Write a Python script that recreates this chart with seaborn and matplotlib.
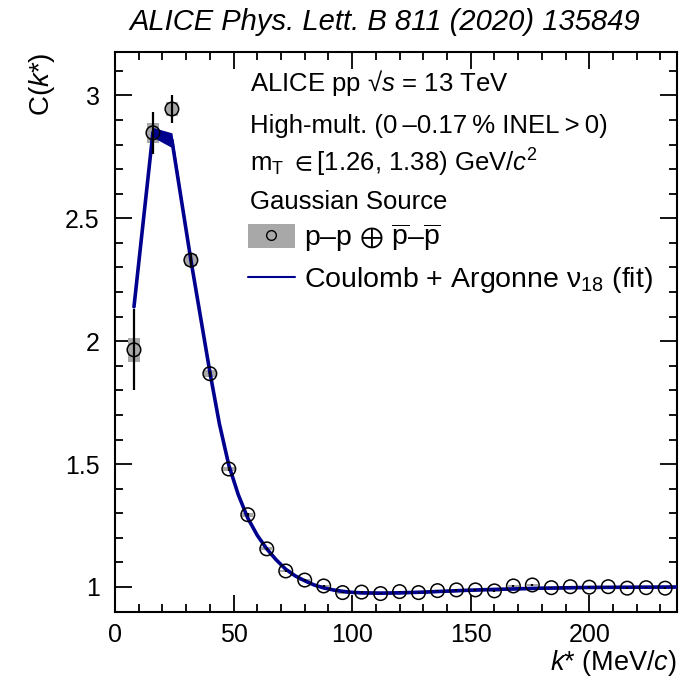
import numpy as np
import pandas as pd
import matplotlib
matplotlib.use("Agg")
import matplotlib.pyplot as plt
import seaborn as sns
from matplotlib.patches import Rectangle
from matplotlib.lines import Line2D
from matplotlib.legend_handler import HandlerTuple
from matplotlib.ticker import MultipleLocator

# ---------------- data ----------------
kstar = [8, 16, 24, 32, 40, 48, 56, 64, 72, 80, 88, 96, 104, 112, 120, 128, 136,
         144, 152, 160, 168, 176, 184, 192, 200, 208, 216, 224, 232]
cf = [1.965, 2.848, 2.945, 2.330, 1.868, 1.480, 1.294, 1.155, 1.065, 1.028, 1.004,
      0.977, 0.979, 0.973, 0.981, 0.977, 0.985, 0.988, 0.988, 0.984, 1.004, 1.008,
      0.997, 1.001, 0.999, 1.001, 0.995, 0.997, 0.995]
cf_stat = [0.165, 0.085, 0.055, 0.025, 0.012, 0.008, 0.006, 0.005, 0.004, 0.004, 0.003,
           0.003, 0.003, 0.003, 0.003, 0.003, 0.003, 0.003, 0.003, 0.003, 0.003, 0.003,
           0.003, 0.003, 0.003, 0.003, 0.003, 0.003, 0.003]
cf_syst = [0.050, 0.042, 0.030, 0.025, 0.015, 0.010, 0.008, 0.006, 0.005, 0.004, 0.004,
           0.004, 0.004, 0.004, 0.004, 0.004, 0.004, 0.004, 0.004, 0.004, 0.004, 0.004,
           0.004, 0.004, 0.004, 0.004, 0.004, 0.004, 0.004]

fit_k = [8, 16, 24, 32, 40, 44, 48, 52, 56, 60, 64, 68, 72, 76, 80, 84, 88, 92, 96,
         100, 104, 112, 120, 130, 140, 150, 160, 180, 200, 220, 240]
fit_cf = [2.14, 2.850, 2.818, 2.330, 1.875, 1.665, 1.495, 1.375, 1.280, 1.210, 1.155,
          1.110, 1.072, 1.045, 1.025, 1.008, 0.996, 0.988, 0.982, 0.978, 0.976, 0.975,
          0.976, 0.979, 0.983, 0.987, 0.990, 0.995, 0.998, 0.999, 1.000]
fit_err = [0.005, 0.020, 0.030, 0.012, 0.006, 0.005, 0.004, 0.004, 0.004, 0.004, 0.004,
           0.004, 0.004, 0.004, 0.004, 0.004, 0.004, 0.004, 0.004, 0.004, 0.004, 0.004,
           0.004, 0.004, 0.004, 0.004, 0.004, 0.004, 0.004, 0.004, 0.004]

info_lines = ["ALICE pp \u221a$s$ = 13 TeV",
              "High-mult. (0\u2009\u20130.17\u2009% INEL\u2009>\u20090)",
              "m$_{\\mathrm{T}}$ $\\in$[1.26, 1.38) GeV/$c^{2}$",
              "Gaussian Source"]
legend_labels = ["p\u2013p $\\oplus$ $\\overline{\\mathrm{p}}$\u2013$\\overline{\\mathrm{p}}$",
                 "Coulomb + Argonne \u03bd$_{18}$ (fit)"]
title = "ALICE Phys. Lett. B 811 (2020) 135849"

# ---------------- style ----------------
sns.set_theme(style="ticks")
plt.rcParams['font.family'] = ['Liberation Sans', 'DejaVu Sans']
plt.rcParams['mathtext.fontset'] = 'custom'
plt.rcParams['mathtext.rm'] = 'Liberation Sans'
plt.rcParams['mathtext.it'] = 'Liberation Sans:italic'
plt.rcParams['mathtext.bf'] = 'Liberation Sans:bold'
plt.rcParams['mathtext.sf'] = 'Liberation Sans'
plt.rcParams['mathtext.fallback'] = 'stixsans'

BLUE = '#00008f'
GREY = '#a8a8a8'

fig = plt.figure(figsize=(6.92, 6.81), dpi=100)
ax = fig.add_axes([115/692, 1-612/681, 562/692, 560/681])

df = pd.DataFrame({"k": kstar, "C": cf, "stat": cf_stat, "syst": cf_syst})
fit = pd.DataFrame({"k": fit_k, "C": fit_cf, "e": fit_err})

# systematic boxes
for k, c, s in zip(df.k, df.C, df.syst):
    ax.add_patch(Rectangle((k-2.4, c-s), 4.8, 2*s, facecolor=GREY, edgecolor='none', zorder=1))

# fit band and line
ax.fill_between(fit.k, fit.C - fit.e, fit.C + fit.e, color=BLUE, lw=0, zorder=2)
sns.lineplot(data=fit, x="k", y="C", ax=ax, color=BLUE, lw=2.6, zorder=3, sort=False)

# stat errors
ax.errorbar(df.k, df.C, yerr=df.stat, fmt='none', ecolor='black', elinewidth=1.6, capsize=0, zorder=4)
sns.scatterplot(data=df, x="k", y="C", ax=ax, marker='o', s=95, zorder=5)
pts = ax.collections[-1]
pts.set_facecolor('none')
pts.set_edgecolor('black')
pts.set_linewidth(1.1)

ax.set_xlim(0, 237)
ax.set_ylim(0.898, 3.177)
ax.xaxis.set_major_locator(MultipleLocator(50))
ax.xaxis.set_minor_locator(MultipleLocator(10))
ax.yaxis.set_minor_locator(MultipleLocator(0.1))
ax.set_yticks([1, 1.5, 2, 2.5, 3])
ax.set_yticklabels(["1", "1.5", "2", "2.5", "3"])
ax.tick_params(which='both', direction='in', top=True, right=True, width=1.3, color='black',
               labelsize=18, labelcolor='black')
ax.tick_params(which='major', length=12)
ax.tick_params(which='minor', length=6)
ax.tick_params(axis='y', pad=11)
ax.tick_params(axis='x', pad=8)
for sp in ax.spines.values():
    sp.set_linewidth(1.5)
    sp.set_color('black')
    sp.set_visible(True)

ax.set_xlabel("$k$* (MeV/$c$)", fontsize=19.5, loc='right', color='black')
ax.xaxis.set_label_coords(1.0, -0.065)
ax.set_ylabel("C($k$*)", fontsize=20, loc='top', color='black')
ax.yaxis.set_label_coords(-0.104, 1.0)

# info text
ys = [83, 126, 163, 202]
for t, py in zip(info_lines, ys):
    ax.text((250-115)/562, (612-py)/560, t, transform=ax.transAxes, fontsize=18.5,
            va='center', ha='left', color='black')

# legend
h1 = (Rectangle((0, 0), 1, 1, facecolor=GREY, edgecolor='none'),
      Line2D([], [], marker='o', ls='none', markersize=7, markerfacecolor='none',
             markeredgecolor='black', markeredgewidth=1.0))
h2 = Line2D([], [], color=BLUE, lw=1.5)
leg = ax.legend([h1, h2], legend_labels, handler_map={tuple: HandlerTuple(ndivide=1, pad=0)},
                loc='upper left', bbox_to_anchor=((248-115)/562, (612-222)/560),
                frameon=False, fontsize=20.5, handlelength=1.65, handleheight=0.9,
                handletextpad=0.3, labelspacing=0.4, borderpad=0, borderaxespad=0)
for t in leg.get_texts():
    t.set_color('black')

fig.text(385/692, 1-22/681, title, ha='center', va='center', fontsize=21,
         style='italic', color='black')

fig.savefig("out.png", dpi=100)
